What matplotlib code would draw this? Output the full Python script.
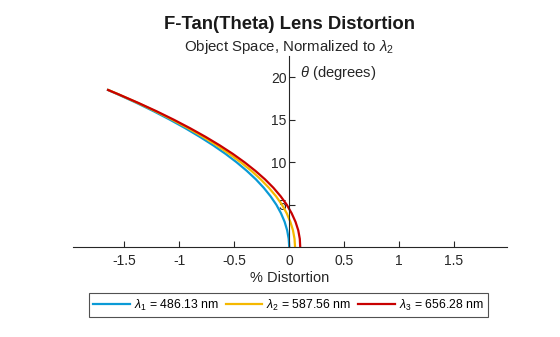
import matplotlib
matplotlib.use("Agg")
import matplotlib.pyplot as plt

plt.rcParams['font.family'] = ['Liberation Sans', 'DejaVu Sans']
plt.rcParams['mathtext.fontset'] = 'custom'
plt.rcParams['mathtext.rm'] = 'Liberation Sans'
plt.rcParams['mathtext.it'] = 'Liberation Sans:italic'

# field angle (degrees)
theta = [0, 1, 2, 3, 4, 5, 6, 7, 8, 9, 10, 11, 12, 13, 14, 15, 16, 17, 18, 18.5]

# % distortion per wavelength
dist_1 = [0.000, -0.005, -0.019, -0.042, -0.075, -0.117, -0.170, -0.232, -0.304, -0.387,
          -0.479, -0.581, -0.693, -0.815, -0.945, -1.085, -1.234, -1.393, -1.562, -1.650]
dist_2 = [0.053, 0.048, 0.034, 0.010, -0.023, -0.066, -0.120, -0.185, -0.260, -0.345,
          -0.441, -0.546, -0.661, -0.786, -0.920, -1.064, -1.218, -1.382, -1.556, -1.647]
dist_3 = [0.100, 0.096, 0.082, 0.057, 0.022, -0.022, -0.078, -0.144, -0.221, -0.309,
          -0.407, -0.515, -0.634, -0.763, -0.902, -1.050, -1.208, -1.377, -1.556, -1.649]

labels = [r'$\lambda_1$ = 486.13 nm', r'$\lambda_2$ = 587.56 nm', r'$\lambda_3$ = 656.28 nm']
colors = ['#0A9AD6', '#F5B800', '#C80000']

xticks = [-1.5, -1, -0.5, 0, 0.5, 1, 1.5]
xticklabels = ['-1.5', '-1', '-0.5', '0', '0.5', '1', '1.5']
yticks = [5, 10, 15, 20]

fig = plt.figure(figsize=(5.6, 3.37), dpi=100)
ax = fig.add_axes([0.130, 0.266, 0.775, 0.568])

for d, c, lab in zip([dist_1, dist_2, dist_3], colors, labels):
    ax.plot(d, theta, color=c, linewidth=1.6, label=lab)

ax.set_xlim(-1.97, 1.98)
ax.set_ylim(0, 22.5)

ax.spines['top'].set_visible(False)
ax.spines['right'].set_visible(False)
ax.spines['left'].set_position(('data', 0))
ax.spines['bottom'].set_position(('data', 0))
for s in ['left', 'bottom']:
    ax.spines[s].set_linewidth(0.8)
    ax.spines[s].set_color('#262626')

ax.set_xticks(xticks)
ax.set_xticklabels(xticklabels)
ax.set_yticks(yticks)
ax.tick_params(axis='both', direction='in', length=4, width=0.8,
               labelsize=10, colors='#262626')
ax.tick_params(axis='x', pad=5)
ax.tick_params(axis='y', pad=2)

ax.set_xlabel('% Distortion', fontsize=10.5, color='#262626', labelpad=2)
ax.text(0.095, 20.5, r'$\theta$ (degrees)', fontsize=10.6, color='#262626',
        ha='left', va='center')

fig.text(0.517, 0.927, 'F-Tan(Theta) Lens Distortion', fontsize=13.3,
         fontweight='bold', ha='center', va='center', color='#1a1a1a')
fig.text(0.515, 0.862, r'Object Space, Normalized to $\lambda_2$', fontsize=10.8,
         ha='center', va='center', color='#262626')

leg = fig.legend(loc='center', bbox_to_anchor=(0.515, 0.095), ncol=3,
                 fontsize=8.8, frameon=True, fancybox=False, handlelength=3.0,
                 columnspacing=0.6, handletextpad=0.3, borderpad=0.35,
                 borderaxespad=0)
leg.get_frame().set_edgecolor('#262626')
leg.get_frame().set_linewidth(0.8)

fig.savefig('out.png', dpi=100)
